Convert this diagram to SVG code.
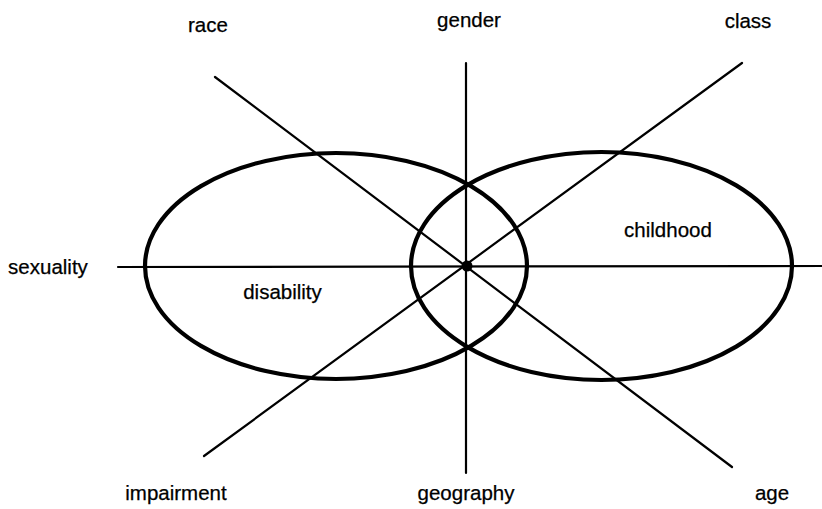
<svg xmlns="http://www.w3.org/2000/svg" width="822" height="509" viewBox="0 0 822 509">
<style>
.ln{stroke:#000;stroke-width:2.2;fill:none;stroke-linecap:round}
.el{stroke:#000;stroke-width:4.2;fill:none}
text{font-family:"Liberation Sans",Arial,sans-serif;font-size:20.5px;fill:#000;text-anchor:middle;stroke:#000;stroke-width:0.25}
</style>
<rect width="822" height="509" fill="#fff"/>
<g id="connectors">
<line class="ln" x1="466" y1="63" x2="466" y2="473"/>
<line class="ln" x1="118" y1="267" x2="822" y2="266"/>
<line class="ln" x1="215" y1="77" x2="732" y2="467"/>
<line class="ln" x1="742" y1="63" x2="204" y2="456"/>
</g>
<g id="disability">
<ellipse class="el" cx="336" cy="266" rx="191" ry="113"/>
<text x="282.5" y="299">disability</text>
</g>
<g id="childhood">
<ellipse class="el" cx="601.5" cy="266" rx="190.5" ry="114"/>
<text x="668" y="237">childhood</text>
</g>
<g id="center"><circle cx="467" cy="266" r="5.5" fill="#000"/></g>
<g id="race"><text x="208" y="32">race</text></g>
<g id="gender"><text x="469" y="27">gender</text></g>
<g id="class"><text x="748" y="28">class</text></g>
<g id="sexuality"><text x="48" y="274">sexuality</text></g>
<g id="impairment"><text x="176" y="500">impairment</text></g>
<g id="geography"><text x="466" y="500">geography</text></g>
<g id="age"><text x="772" y="500">age</text></g>
</svg>
